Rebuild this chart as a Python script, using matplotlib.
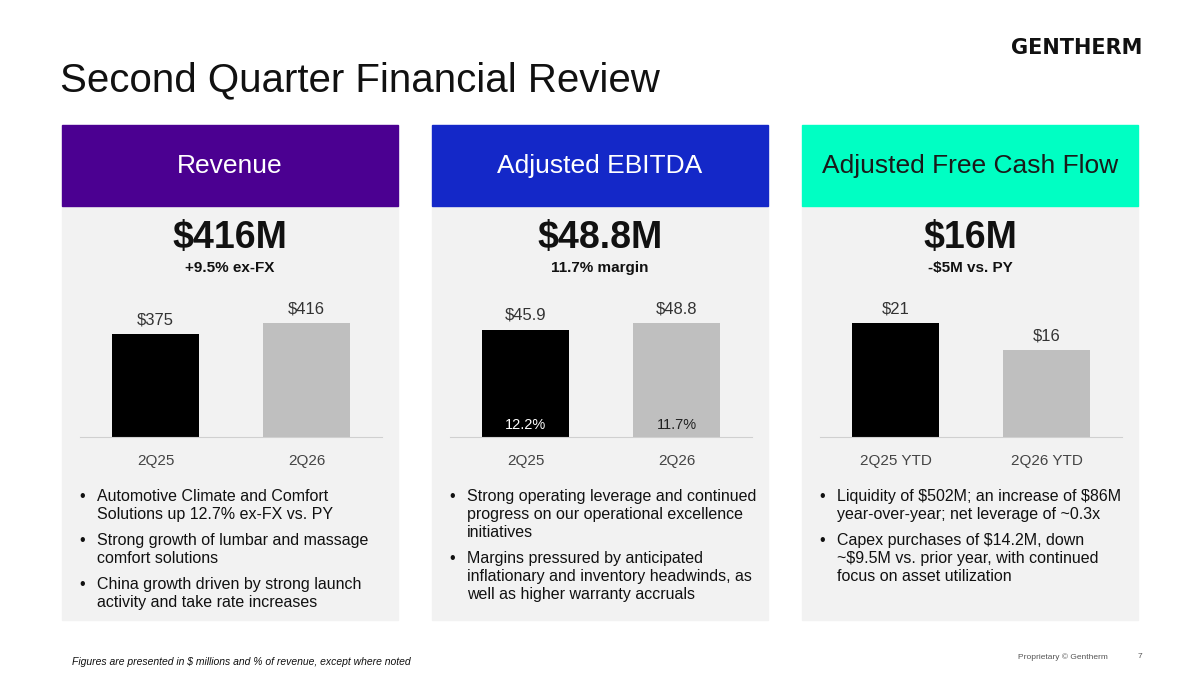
import matplotlib
matplotlib.use("Agg")
import matplotlib.pyplot as plt
from matplotlib.patches import Rectangle

W, H = 1200, 675
titles = ["Revenue", "Adjusted EBITDA", "Adjusted Free Cash Flow"]
header_colors = ["#4B0091", "#1428C8", "#00FFC3"]
header_text_colors = ["white", "white", "#1a1a1a"]
big_values = ["\\$416M", "\\$48.8M", "\\$16M"]
subtitles = ["+9.5% ex-FX", "11.7% margin", "-\\$5M vs. PY"]
categories = [["2Q25", "2Q26"], ["2Q25", "2Q26"], ["2Q25 YTD", "2Q26 YTD"]]
values = [[375, 416], [45.9, 48.8], [21, 16]]
value_labels = [["\\$375", "\\$416"], ["\\$45.9", "\\$48.8"], ["\\$21", "\\$16"]]
margin_labels = ["12.2%", "11.7%"]
bullets = [
    ["Automotive Climate and Comfort\nSolutions up 12.7% ex-FX vs. PY",
     "Strong growth of lumbar and massage\ncomfort solutions",
     "China growth driven by strong launch\nactivity and take rate increases"],
    ["Strong operating leverage and continued\nprogress on our operational excellence\ninitiatives",
     "Margins pressured by anticipated\ninflationary and inventory headwinds, as\nwell as higher warranty accruals"],
    ["Liquidity of \\$502M; an increase of \\$86M\nyear-over-year; net leverage of ~0.3x",
     "Capex purchases of \\$14.2M, down\n~\\$9.5M vs. prior year, with continued\nfocus on asset utilization"],
]
bar_colors = ["#000000", "#BFBFBF"]

plt.rcParams['font.family'] = ['Liberation Sans', 'DejaVu Sans']
fig = plt.figure(figsize=(W/100, H/100), dpi=100)
fig.patch.set_facecolor("white")

def fx(x): return x / W
def fy(y): return 1 - y / H

fig.text(fx(1077), fy(48), "GENTHERM", fontsize=15, fontweight="bold",
         ha="center", va="center", family="DejaVu Sans", color="#111111")
fig.text(fx(60), fy(80), "Second Quarter Financial Review", fontsize=29,
         ha="left", va="center", color="#111111")

panel_x = [62, 432, 802]
pw = 336
for i in range(3):
    x0 = panel_x[i]
    fig.patches.append(Rectangle((fx(x0), fy(620)), pw / W, (620 - 206) / H,
                                 transform=fig.transFigure, color="#F2F2F2", zorder=-2))
    fig.patches.append(Rectangle((fx(x0), fy(206)), pw / W, (206 - 125) / H,
                                 transform=fig.transFigure, color=header_colors[i], zorder=-2))
    cx = x0 + pw / 2
    fig.text(fx(cx), fy(166), titles[i], fontsize=19, ha="center", va="center",
             color=header_text_colors[i])
    fig.text(fx(cx), fy(238), big_values[i], fontsize=27, fontweight="bold",
             ha="center", va="center", color="#111111")
    fig.text(fx(cx), fy(268), subtitles[i], fontsize=11, fontweight="bold",
             ha="center", va="center", color="#111111")

    ax_l, ax_r = x0 + 18, x0 + 320
    ax = fig.add_axes([fx(ax_l), fy(437), (ax_r - ax_l) / W, 137 / H])
    ax.set_zorder(5)
    ax.set_facecolor("none")
    vmax = max(values[i])
    ax.set_ylim(0, vmax * 137 / 114)
    ax.set_xlim(-0.5, 1.5)
    ax.bar([0, 1], values[i], width=0.58, color=bar_colors, zorder=2)
    for j, v in enumerate(values[i]):
        ax.annotate(value_labels[i][j], (j, v), xytext=(0, 5), textcoords="offset points",
                    ha="center", va="bottom", fontsize=12, color="#333333")
    if i == 1:
        ax.text(0, vmax * 12 / 114, margin_labels[0], ha="center", va="center",
                fontsize=10.5, color="white")
        ax.text(1, vmax * 12 / 114, margin_labels[1], ha="center", va="center",
                fontsize=10.5, color="#222222")
    for s in ["top", "right", "left"]:
        ax.spines[s].set_visible(False)
    ax.spines["bottom"].set_color("#D0D0D0")
    ax.set_yticks([])
    ax.set_xticks([0, 1])
    ax.set_xticklabels(categories[i], fontsize=11, color="#444444")
    ax.tick_params(axis="x", length=0, pad=12)

    y = 489
    for b in bullets[i]:
        nlines = b.count("\n") + 1
        fig.text(fx(x0 + 17), fy(y), "•", fontsize=11.5, ha="left", va="top", color="#111111")
        fig.text(fx(x0 + 35), fy(y), b, fontsize=11.5, ha="left", va="top",
                 color="#111111", linespacing=1.25)
        y += nlines * 18 + 8

fig.text(fx(72), fy(662), "Figures are presented in \\$ millions and % of revenue, except where noted",
         fontsize=7.5, style="italic", ha="left", va="center", color="#111111")
fig.text(fx(1108), fy(657), "Proprietary © Gentherm", fontsize=6, ha="right",
         va="center", color="#555555")
fig.text(fx(1140), fy(657), "7", fontsize=6, ha="center", va="center", color="#555555")

fig.savefig("out.png", dpi=100, facecolor="white")
